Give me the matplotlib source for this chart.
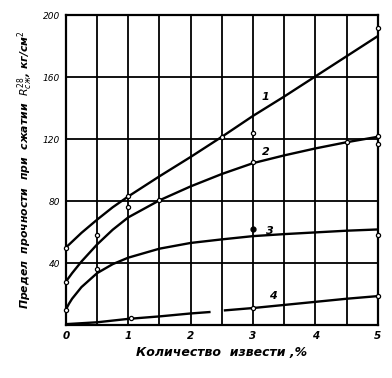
import matplotlib
matplotlib.use("Agg")
import matplotlib.pyplot as plt

plt.rcParams['font.family'] = ['DejaVu Sans']
plt.rcParams['mathtext.fontset'] = 'dejavusans'

# Curve readings (x = lime content, %; y = strength, kg/cm2)
x1 = [0, 0.25, 0.5, 0.75, 1.0, 1.5, 2.0, 2.5, 3.0, 3.5, 4.0, 4.5, 5.0]
y1 = [50, 59.5, 68, 76, 83, 96, 108.5, 121.5, 135, 147.5, 160.5, 173.5, 186.5]

x2 = [0, 0.1, 0.25, 0.5, 0.75, 1.0, 1.5, 2.0, 2.5, 3.0, 3.5, 4.0, 4.5, 5.0]
y2 = [28, 33.5, 41, 52, 61.5, 69.5, 80.5, 89.5, 97.5, 104.5, 109.5, 114, 118, 121.5]

x3 = [0, 0.05, 0.1, 0.25, 0.5, 0.75, 1.0, 1.5, 2.0, 2.5, 3.0, 3.5, 4.0, 4.5, 5.0]
y3 = [10, 13.8, 17, 24.5, 33.5, 39.3, 43.5, 49.3, 53, 55.3, 57.4, 58.7, 59.8, 60.9, 61.7]

x4a = [0, 0.5, 1.0, 1.5, 2.0, 2.3]
y4a = [0.6, 1.8, 4.0, 5.6, 7.5, 8.4]
x4b = [2.55, 3.0, 3.5, 4.0, 4.5, 5.0]
y4b = [9.5, 11, 13, 15, 17, 18.7]

# Experimental points
px1 = [0, 0.5, 1.0, 2.5, 3.0, 5.0]
py1 = [50, 58, 83, 121.5, 124, 191.5]
px2 = [0, 1.0, 1.5, 3.0, 4.5, 5.0, 5.0]
py2 = [28, 76, 80.5, 105, 118, 122, 117]
px3 = [0, 0.5, 5.0]
py3 = [10, 36, 58]
px3f = [3.0]
py3f = [61.7]
px4 = [1.05, 3.0, 5.0]
py4 = [4.5, 11, 18.7]

curve_labels = ['1', '2', '3', '4']
label_x = [3.14, 3.14, 3.2, 3.25]
label_y = [147, 112, 61, 19]

x_ticks = [0, 1, 2, 3, 4, 5]
y_ticks = [40, 80, 120, 160, 200]

fig = plt.figure(figsize=(3.92, 3.78), dpi=100)
ax = fig.add_axes([0.168, 0.140, 0.796, 0.820])
ax.set_xlim(0, 5)
ax.set_ylim(0, 200)

for gx in [i * 0.5 for i in range(1, 10)]:
    ax.axvline(gx, color='black', lw=1.3, zorder=1)
for gy in [40, 80, 120, 160]:
    ax.axhline(gy, color='black', lw=1.3, zorder=1)

for sp in ax.spines.values():
    sp.set_linewidth(1.6)

lk = dict(color='black', lw=1.7, zorder=3, solid_joinstyle='round')
ax.plot(x1, y1, **lk)
ax.plot(x2, y2, **lk)
ax.plot(x3, y3, **lk)
ax.plot(x4a, y4a, **lk)
ax.plot(x4b, y4b, **lk)

mk = dict(ls='none', marker='o', ms=3, mfc='white', mec='black', mew=0.9, zorder=4, clip_on=False)
ax.plot(px1, py1, **mk)
ax.plot(px2, py2, **mk)
ax.plot(px3, py3, **mk)
ax.plot(px4, py4, **mk)
ax.plot(px3f, py3f, ls='none', marker='o', ms=3.5, color='black', zorder=4)

for t, lx, ly in zip(curve_labels, label_x, label_y):
    ax.text(lx, ly, t, fontsize=8, fontstyle='italic', fontweight='bold', ha='left', va='center')

ax.set_xticks(x_ticks)
ax.set_xticklabels([str(v) for v in x_ticks], fontsize=7.5, fontstyle='italic', fontweight='bold')
ax.set_yticks(y_ticks)
ax.set_yticklabels([str(v) for v in y_ticks], fontsize=6.5, fontstyle='italic')
ax.tick_params(length=0, pad=4)

ax.set_xlabel('Количество  извести ,%', fontsize=9, fontstyle='italic', fontweight='bold', labelpad=4)
ax.set_ylabel(r'Предел  прочности  при  сжатии  $R^{28}_{сж}$, кг/см$^2$', fontsize=7.8,
              fontstyle='italic', fontweight='bold', labelpad=6)

fig.savefig('out.png', dpi=100, facecolor='white')
